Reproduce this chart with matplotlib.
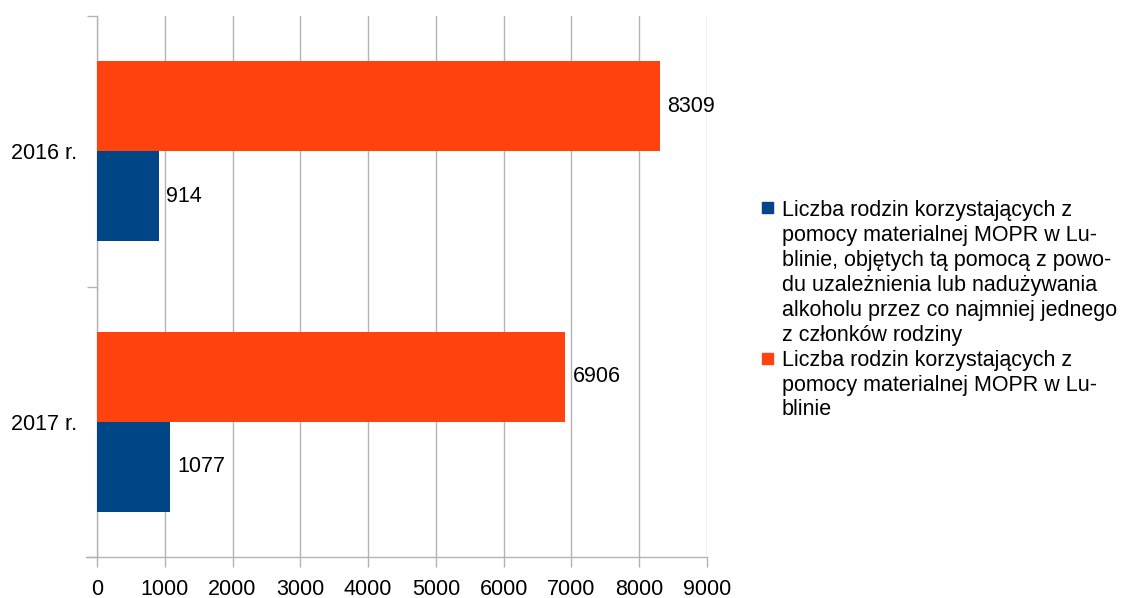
import numpy as np
import matplotlib.pyplot as plt
from matplotlib.patches import Rectangle

plt.rcParams['font.family'] = ['Liberation Sans', 'DejaVu Sans']

# data
years = ['2016 r.', '2017 r.']
alcohol_families = [914, 1077]
all_families = [8309, 6906]
label_alcohol = ('Liczba rodzin korzystających z\npomocy materialnej MOPR w Lu-\n'
                 'blinie, objętych tą pomocą z powo-\ndu uzależnienia lub nadużywania\n'
                 'alkoholu przez co najmniej jednego\nz członków rodziny')
label_all = 'Liczba rodzin korzystających z\npomocy materialnej MOPR w Lu-\nblinie'
x_ticks = [0, 1000, 2000, 3000, 4000, 5000, 6000, 7000, 8000, 9000]

blue = '#004586'
orange = '#ff420e'
grid_col = '#b3b3b3'
fs = 15.5
W, H = 1122, 598

fig = plt.figure(figsize=(W / 100, H / 100), dpi=100)
ax = fig.add_axes([97 / W, 41 / H, 610 / W, 541 / H])

y = np.arange(len(years))
h = 1 / 3
bars_all = ax.barh(y - h / 2, all_families, height=h, color=orange, zorder=3)
bars_alc = ax.barh(y + h / 2, alcohol_families, height=h, color=blue, zorder=3)

for bars in (bars_all, bars_alc):
    for b in bars:
        ax.text(b.get_width() + 110, b.get_y() + b.get_height() / 2, str(int(b.get_width())),
                va='center', ha='left', fontsize=fs, color='#000000')

ax.set_xlim(0, 9000)
ax.set_ylim(1.5, -0.5)
ax.set_xticks(x_ticks)
ax.set_xticklabels([str(t) for t in x_ticks], fontsize=fs)
ax.tick_params(axis='x', length=7.5, width=1, color=grid_col, pad=8)
ax.grid(axis='x', color=grid_col, linewidth=1, zorder=0)

ax.set_yticks(y)
ax.set_yticklabels(years, fontsize=fs)
ax.set_yticks([-0.5, 0.5, 1.5], minor=True)
ax.tick_params(axis='y', which='major', length=0, pad=14)
ax.tick_params(axis='y', which='minor', length=7.5, width=1, color=grid_col)

for s in ('top', 'right'):
    ax.spines[s].set_visible(False)
for s in ('left', 'bottom'):
    ax.spines[s].set_color(grid_col)
    ax.spines[s].set_linewidth(1)
ax.spines['bottom'].set_bounds(-9000 * 11 / 610, 9000)
ax.spines['bottom'].set_clip_on(False)

# legend drawn by hand so the key squares sit on the first text line
entries = [(blue, label_alcohol, 208, 273), (orange, label_all, 358, 385)]
for col, lab, key_y, text_y in entries:
    fig.patches.append(Rectangle((762 / W, 1 - (key_y + 5.5) / H), 11 / W, 11 / H,
                                 transform=fig.transFigure, color=col))
    fig.text(782 / W, 1 - text_y / H, lab, fontsize=fs, va='center', ha='left',
             linespacing=1.24, color='#000000')

fig.savefig('out.png', dpi=100)
